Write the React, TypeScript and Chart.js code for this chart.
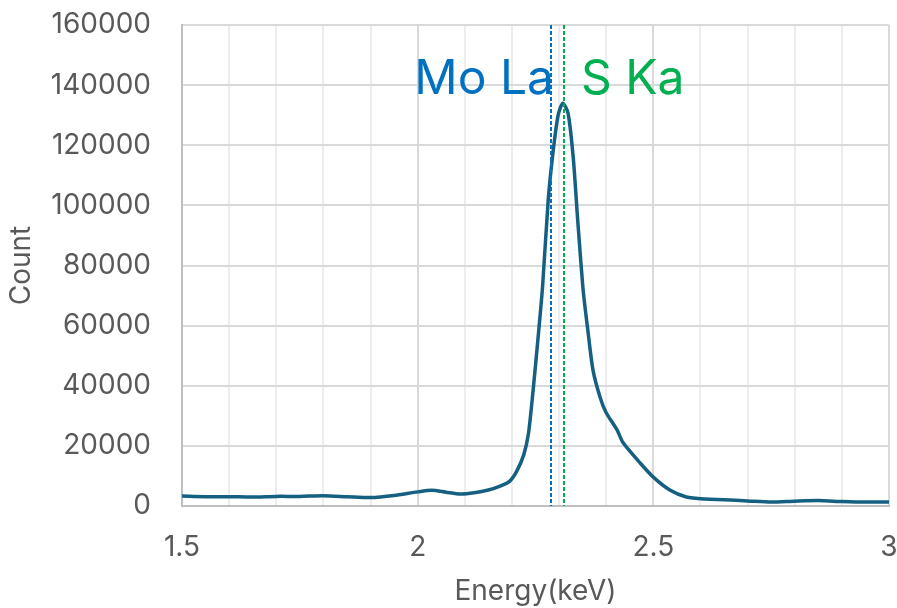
import React, { useEffect, useRef } from "react";
import { Chart, registerables } from "chart.js";

Chart.register(...registerables);

const energies = [1.50, 1.55, 1.60, 1.65, 1.70, 1.75, 1.80, 1.85, 1.90, 1.95, 2.00, 2.03, 2.06, 2.09, 2.12, 2.15, 2.175, 2.195, 2.21, 2.225, 2.235, 2.245, 2.255, 2.265, 2.277, 2.287, 2.298, 2.308, 2.319, 2.330, 2.340, 2.351, 2.361, 2.372, 2.387, 2.400, 2.423, 2.436, 2.472, 2.50, 2.535, 2.57, 2.61, 2.65, 2.70, 2.75, 2.80, 2.85, 2.90, 2.95, 3.00];
const counts = [3300, 3100, 3100, 3000, 3200, 3200, 3400, 3100, 2800, 3500, 4700, 5200, 4600, 4000, 4400, 5300, 6600, 8200, 11500, 17000, 24000, 38600, 55200, 73000, 101800, 117400, 130000, 134000, 130700, 116000, 94100, 72000, 58500, 45200, 36200, 31000, 25300, 21000, 14300, 9600, 5300, 3000, 2300, 2100, 1700, 1300, 1600, 1800, 1500, 1300, 1300];

const markerEnergies = [2.283, 2.311];
const markerLabels = ["Mo La", "S Ka"];
const markerColors = ["#0070C0", "#00B050"];

const FONT = "Inter, 'Open Sans', sans-serif";

const markerPlugin = {
  id: "markers",
  afterDatasetsDraw(chart: any) {
    const { ctx, chartArea, scales } = chart;
    const x = scales.x;
    ctx.save();
    markerEnergies.forEach((e, i) => {
      const px = Math.round(x.getPixelForValue(e));
      ctx.strokeStyle = markerColors[i];
      ctx.lineWidth = 2;
      ctx.setLineDash([4, 2]);
      ctx.beginPath();
      ctx.moveTo(px, chartArea.top);
      ctx.lineTo(px, chartArea.bottom);
      ctx.stroke();
      ctx.setLineDash([]);
      ctx.fillStyle = markerColors[i];
      ctx.font = `48px ${FONT}`;
      ctx.textBaseline = "alphabetic";
      if (i === 0) {
        ctx.textAlign = "right";
        ctx.fillText(markerLabels[i], px + 3, 94);
      } else {
        ctx.textAlign = "left";
        ctx.fillText(markerLabels[i], px + 17, 94);
      }
    });
    ctx.restore();
  },
};

export default function App() {
  const ref = useRef<HTMLCanvasElement>(null);
  useEffect(() => {
    const chart = new Chart(ref.current!, {
      type: "line",
      data: {
        datasets: [
          {
            data: energies.map((e, i) => ({ x: e, y: counts[i] })),
            borderColor: "#156082",
            borderWidth: 3.5,
            pointRadius: 0,
            tension: 0.25,
            fill: false,
          },
        ],
      },
      options: {
        responsive: false,
        animation: false,
        layout: { padding: { top: 25, right: 8, left: 0, bottom: 0 } },
        plugins: { legend: { display: false }, tooltip: { enabled: false } },
        scales: {
          x: {
            type: "linear",
            min: 1.5,
            max: 3,
            afterFit: (s: any) => {
              s.height = 102;
              s.paddingLeft = 0;
              s.paddingRight = 0;
              s.paddingTop = 0;
              s.paddingBottom = 0;
            },
            ticks: {
              stepSize: 0.1,
              autoSkip: false,
              maxRotation: 0,
              padding: 25,
              color: "#595959",
              font: { family: FONT, size: 28 },
              callback: (v: any) => {
                const r = Math.round(v * 10);
                if (r % 5 !== 0) return "";
                const val = r / 10;
                return Number.isInteger(val) ? String(val) : val.toFixed(1);
              },
            },
            grid: {
              drawTicks: false,
              color: (c: any) => {
                const r = Math.round(c.tick.value * 10);
                return r % 5 === 0 ? "#D9D9D9" : "#EDEDED";
              },
              lineWidth: 2,
            },
            border: { color: "#BFBFBF", width: 2 },
            title: {
              display: true,
              text: "Energy(keV)",
              color: "#595959",
              font: { family: FONT, size: 28 },
              padding: { top: 0, bottom: 0 },
            },
          },
          y: {
            min: 0,
            max: 160000,
            afterFit: (s: any) => {
              s.width = 182;
              s.paddingTop = 0;
              s.paddingBottom = 0;
              s.paddingLeft = 0;
              s.paddingRight = 0;
            },
            ticks: {
              stepSize: 20000,
              padding: 31,
              color: "#595959",
              font: { family: FONT, size: 28 },
              callback: (v: any) => String(v),
            },
            grid: { drawTicks: false, color: "#D9D9D9", lineWidth: 2 },
            border: { color: "#BFBFBF", width: 2 },
            title: {
              display: true,
              text: "Count",
              color: "#595959",
              font: { family: FONT, size: 28 },
              padding: { top: 5, bottom: 0 },
            },
          },
        },
      },
      plugins: [markerPlugin],
    });
    return () => chart.destroy();
  }, []);
  return (
    <div style={{ position: "fixed", left: 0, top: 0, width: 897, height: 608, background: "#fff" }}>
      <canvas ref={ref} width={897} height={608} />
    </div>
  );
}
